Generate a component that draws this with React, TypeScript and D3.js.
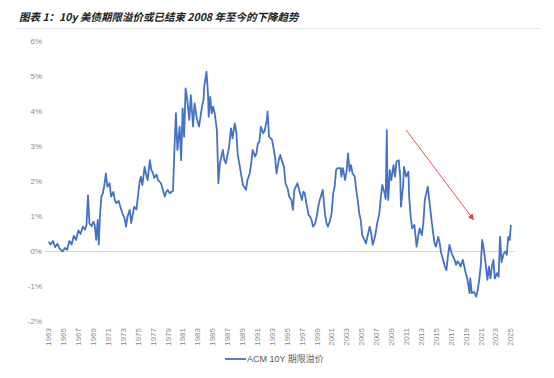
import React from "react";
import * as d3 from "d3";

const title = "图表 1：10y 美债期限溢价或已结束 2008 年至今的下降趋势";
const seriesName = "ACM 10Y 期限溢价";
const yTicks = [-2, -1, 0, 1, 2, 3, 4, 5, 6];
const xTickYears = d3.range(1963, 2026, 2);

const years = [
  1963.0, 1963.3, 1963.6, 1963.9, 1964.2, 1964.5, 1964.9, 1965.2, 1965.5, 1965.8,
  1966.1, 1966.4, 1966.7, 1967.0, 1967.3, 1967.6, 1967.9, 1968.1, 1968.3, 1968.5,
  1968.8, 1969.0, 1969.2, 1969.4, 1969.6, 1969.75, 1969.9, 1970.1, 1970.3, 1970.5,
  1970.7, 1970.9, 1971.2, 1971.4, 1971.7, 1971.9, 1972.1, 1972.4, 1972.7, 1972.9,
  1973.2, 1973.4, 1973.6, 1973.9, 1974.1, 1974.3, 1974.5, 1974.8, 1975.0, 1975.2,
  1975.4, 1975.6, 1975.9, 1976.1, 1976.3, 1976.6, 1976.8, 1977.0, 1977.2, 1977.5,
  1977.7, 1978.1, 1978.3, 1978.6, 1978.8, 1979.0, 1979.3, 1979.5, 1979.7, 1979.9,
  1980.1, 1980.3, 1980.6, 1980.8, 1981.0, 1981.2, 1981.4, 1981.6, 1981.9, 1982.1,
  1982.4, 1982.6, 1982.9, 1983.2, 1983.6, 1983.8, 1983.9, 1984.2, 1984.4, 1984.5,
  1984.7, 1984.9, 1985.1, 1985.3, 1985.6, 1985.8, 1986.0, 1986.4, 1986.6, 1986.8,
  1987.2, 1987.5, 1987.7, 1988.0, 1988.2, 1988.4, 1988.6, 1988.9, 1989.1, 1989.5,
  1989.7, 1990.0, 1990.2, 1990.4, 1990.7, 1990.9, 1991.1, 1991.3, 1991.5, 1991.8,
  1992.0, 1992.3, 1992.4, 1992.6, 1993.0, 1993.4, 1993.6, 1993.9, 1994.1, 1994.3,
  1994.6, 1994.8, 1995.1, 1995.3, 1995.6, 1995.8, 1996.0, 1996.4, 1996.7, 1997.0,
  1997.2, 1997.4, 1997.6, 1997.9, 1998.1, 1998.3, 1998.5, 1998.8, 1999.0, 1999.2,
  1999.4, 1999.6, 1999.8, 2000.1, 2000.3, 2000.5, 2000.8, 2001.0, 2001.2, 2001.4,
  2001.6, 2001.8, 2002.2, 2002.3, 2002.5, 2002.8, 2003.0, 2003.2, 2003.4, 2003.6,
  2003.8, 2004.1, 2004.3, 2004.5, 2004.7, 2004.9, 2005.1, 2005.4, 2005.6, 2005.8,
  2006.1, 2006.3, 2006.5, 2006.7, 2006.9, 2007.1, 2007.4, 2007.6, 2007.8, 2008.1,
  2008.25, 2008.4, 2008.5, 2008.6, 2008.8, 2009.0, 2009.3, 2009.5, 2009.7, 2010.0,
  2010.2, 2010.3, 2010.6, 2010.7, 2011.0, 2011.3, 2011.4, 2011.6, 2011.8, 2012.1,
  2012.4, 2012.6, 2012.8, 2013.1, 2013.3, 2013.5, 2013.7, 2013.9, 2014.2, 2014.4,
  2014.6, 2014.8, 2015.0, 2015.3, 2015.5, 2015.7, 2015.9, 2016.2, 2016.4, 2016.6,
  2016.8, 2017.1, 2017.3, 2017.5, 2017.7, 2017.9, 2018.1, 2018.3, 2018.6, 2018.8,
  2019.0, 2019.2, 2019.5, 2019.6, 2019.8, 2020.1, 2020.4, 2020.6, 2020.8, 2021.0,
  2021.2, 2021.3, 2021.6, 2021.7, 2021.9, 2022.1, 2022.3, 2022.5, 2022.7, 2022.9,
  2023.2, 2023.4, 2023.6, 2023.8, 2024.1, 2024.3, 2024.5, 2024.7, 2024.9, 2025.05,
];

const values = [
  0.28, 0.20, 0.30, 0.12, 0.22, 0.08, 0.00, 0.10, 0.05, 0.30,
  0.20, 0.45, 0.33, 0.60, 0.50, 0.71, 0.62, 0.76, 1.60, 0.80,
  0.72, 0.85, 0.76, 0.33, 0.90, 0.20, 1.00, 1.57, 1.67, 1.90,
  2.23, 1.85, 1.95, 1.57, 1.70, 1.47, 1.38, 1.45, 1.24, 1.10,
  0.96, 0.71, 1.00, 1.19, 0.81, 1.05, 1.28, 1.20, 1.57, 1.95,
  2.14, 1.90, 2.42, 2.20, 2.04, 2.61, 2.33, 2.25, 2.10, 2.20,
  2.04, 1.95, 1.80, 1.57, 1.70, 1.76, 1.66, 1.71, 1.72, 2.90,
  3.95, 2.90, 3.57, 2.61, 4.09, 3.28, 4.66, 4.38, 3.76, 4.47,
  3.57, 4.23, 3.80, 3.57, 4.14, 4.33, 4.71, 5.14, 4.52, 3.85,
  4.42, 3.95, 4.14, 3.95, 3.47, 1.95, 2.52, 2.90, 2.61, 2.52,
  2.95, 3.52, 3.23, 3.66, 3.42, 2.76, 2.52, 2.14, 1.90, 1.76,
  2.04, 2.23, 2.52, 2.90, 2.71, 2.80, 3.09, 3.14, 3.57, 3.38,
  3.45, 3.76, 4.00, 3.28, 3.19, 2.71, 2.23, 2.61, 2.76, 2.61,
  2.42, 1.95, 1.80, 1.57, 1.47, 1.19, 1.76, 1.95, 1.71, 1.47,
  1.71, 1.66, 1.38, 1.04, 1.00, 0.90, 0.71, 0.81, 1.00, 1.28,
  1.47, 1.61, 1.76, 1.09, 0.81, 0.71, 0.90, 1.10, 1.66, 1.85,
  2.33, 2.38, 2.38, 2.14, 2.38, 2.04, 2.30, 2.80, 2.30, 2.47,
  2.23, 2.14, 1.76, 1.47, 1.09, 0.90, 0.47, 0.33, 0.23, 0.42,
  0.71, 0.52, 0.19, 0.33, 0.52, 0.80, 1.09, 1.57, 1.90, 1.66,
  1.50, 3.47, 1.76, 1.47, 2.33, 2.04, 2.47, 2.14, 2.57, 2.61,
  2.14, 1.28, 1.90, 2.42, 2.14, 2.28, 1.57, 1.00, 0.66, 0.76,
  0.14, 0.42, 0.66, 0.47, 0.80, 1.47, 1.66, 1.85, 1.28, 0.90,
  0.57, 0.23, 0.14, 0.42, 0.23, -0.05, -0.19, -0.43, -0.53, -0.15,
  0.19, -0.05, -0.15, -0.24, -0.38, -0.28, -0.33, -0.43, -0.24, -0.43,
  -0.62, -0.77, -1.19, -0.77, -1.19, -1.15, -1.29, -1.10, -0.81, -0.43,
  0.33, 0.23, -0.24, -0.43, -0.81, -0.43, -0.77, -0.43, -0.24, -0.77,
  -0.62, -0.72, 0.42, -0.30, -0.05, 0.00, -0.10, 0.42, 0.33, 0.76,
];

// trend arrow endpoints (year, value)
const arrowFrom = [2011.0, 3.47];
const arrowTo = [2020.0, 0.92];

export default function App() {
  const W = 554, H = 378;
  const x = d3.scaleLinear().domain([1963, 2025]).range([48.5, 510.5]);
  const y = d3.scaleLinear().domain([-2, 6]).range([321.5, 41.5]);
  const pts = years.map((yr, i) => [yr, values[i]] as [number, number]);
  const line = d3.line<[number, number]>().x(d => x(d[0])).y(d => y(d[1]));
  const font = "'Liberation Sans', Arial, 'Noto Sans CJK SC', sans-serif";
  return (
    <svg width={W} height={H} style={{ position: "absolute", left: 0, top: 0, background: "#fff" }}>
      <defs>
        <marker id="arr" viewBox="0 0 10 10" refX="8" refY="5" markerWidth="7" markerHeight="7" orient="auto">
          <path d="M0,0 L10,5 L0,10 z" fill="#ee3b3b" />
        </marker>
      </defs>
      <text x={19} y={21} fontFamily="'Noto Sans CJK SC', sans-serif" fontSize={10.5}
        fontWeight="bold" fontStyle="italic" fill="#222">{title}</text>
      <line x1={16} x2={540} y1={28.5} y2={28.5} stroke="#e3e3e3" strokeWidth={1} />
      <line x1={44} x2={515} y1={y(0)} y2={y(0)} stroke="#d9d9d9" strokeWidth={1} />
      {yTicks.map(t => (
        <text key={t} x={42} y={y(t)} dy="0.35em" textAnchor="end" fontFamily={font}
          fontSize={8} fill="#8c8c8c">{`${t}%`}</text>
      ))}
      {xTickYears.map(t => (
        <text key={t} transform={`translate(${x(t)},328) rotate(-90)`} dy="0.35em" textAnchor="end"
          fontFamily={font} fontSize={8} fill="#8c8c8c">{t}</text>
      ))}
      <path d={line(pts) || ""} fill="none" stroke="#4472C4" strokeWidth={1.8} strokeLinejoin="round" />
      <line x1={x(arrowFrom[0])} y1={y(arrowFrom[1])} x2={x(arrowTo[0])} y2={y(arrowTo[1])}
        stroke="#ee3b3b" strokeWidth={0.9} markerEnd="url(#arr)" />
      <line x1={225} x2={246} y1={359} y2={359} stroke="#4472C4" strokeWidth={1.8} />
      <text x={247} y={359} dy="0.35em" fontFamily={font} fontSize={9} fill="#595959">{seriesName}</text>
    </svg>
  );
}
